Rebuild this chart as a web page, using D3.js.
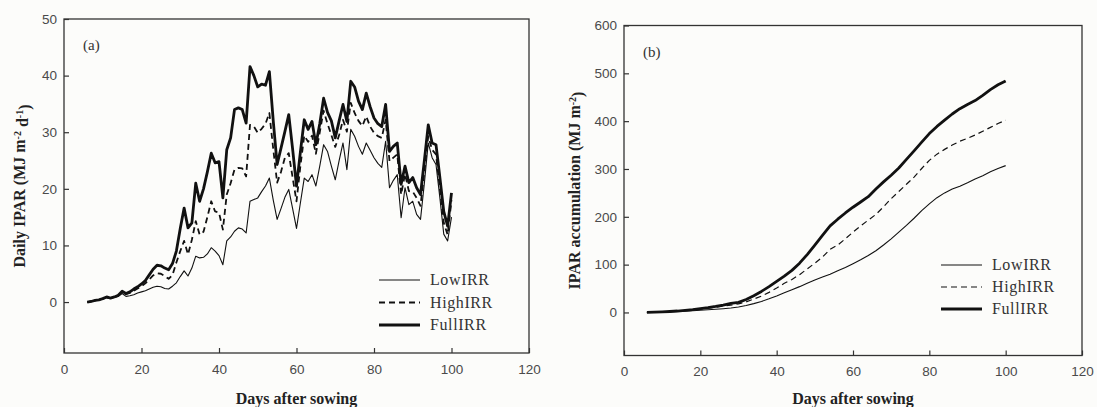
<!DOCTYPE html>
<html><head><meta charset="utf-8">
<script src="https://cdn.jsdelivr.net/npm/d3@7"></script>
<style>
html,body{margin:0;padding:0;background:#fcfcfa;}
svg{display:block;}
.tick text{font-family:"Liberation Sans",Arial,sans-serif;font-size:13.5px;fill:#4a4a4a;}
.tick line{stroke:#333;stroke-width:1.2;}
.title{font-family:"Liberation Serif","Times New Roman",serif;font-weight:bold;font-size:16px;fill:#222;}
.leg{font-family:"Liberation Serif","Times New Roman",serif;font-size:16px;fill:#333;letter-spacing:0.6px;}
.plab{font-family:"Liberation Serif","Times New Roman",serif;font-size:15px;fill:#333;}
</style></head>
<body>
<svg id="c" width="1097" height="407"></svg>
<script>
// ---------- data ----------
const xTicks = [0, 20, 40, 60, 80, 100, 120];
const yTicksA = [0, 10, 20, 30, 40, 50];
const yTicksB = [0, 100, 200, 300, 400, 500, 600];
const seriesNames = ["LowIRR", "HighIRR", "FullIRR"];

// Panel (a): daily IPAR, days 6..100
const daysA = [6,7,8,9,10,11,12,13,14,15,16,17,18,19,20,21,22,23,24,25,26,27,28,29,30,31,32,33,34,35,36,37,38,39,40,41,42,43,44,45,46,47,48,49,50,51,52,53,54,55,56,57,58,59,60,61,62,63,64,65,66,67,68,69,70,71,72,73,74,75,76,77,78,79,80,81,82,83,84,85,86,87,88,89,90,91,92,93,94,95,96,97,98,99,100];
const lowA = [0,0.1,0.2,0.4,0.5,0.8,0.7,0.8,1.0,1.5,1.0,1.1,1.3,1.6,1.8,2.0,2.3,2.6,2.8,2.7,2.4,2.3,2.8,3.4,4.5,5.5,4.6,6.0,8.1,7.8,7.9,8.5,9.6,9.0,8.2,6.6,10.8,11.5,12.5,13.1,12.9,12.2,17.8,18.1,18.4,19.5,20.5,21.9,18.0,14.6,16.5,18.5,19.9,16.5,13.0,17.5,21.9,21.3,22.5,20.5,24.0,27.8,26.6,24.0,21.6,25.0,28.1,23.4,30.5,29.3,27.5,26.1,28.1,26.8,25.5,24.5,23.8,28.4,20.2,21.5,22.5,14.9,20.2,17.2,17.8,15.5,14.6,21.0,28.1,25.5,24.3,18.4,12.0,10.8,15.0];
const highA = [0,0.1,0.3,0.4,0.6,0.8,0.7,0.9,1.1,1.7,1.4,1.6,2.0,2.4,2.8,3.3,4.0,4.7,5.1,5.0,4.6,4.1,4.8,7.0,9.0,10.8,8.4,11.0,14.3,11.9,12.4,15.0,17.8,16.0,15.8,12.8,19.0,21.0,23.4,23.7,23.6,22.2,31.3,31.0,29.9,30.6,31.5,33.4,27.0,21.1,23.0,25.5,26.3,22.0,17.8,24.0,29.4,28.3,29.4,26.2,30.0,33.8,31.5,29.5,27.4,29.5,32.2,30.1,35.2,33.4,32.0,31.1,32.8,31.0,29.9,29.3,29.0,32.2,24.9,25.5,26.1,19.0,22.6,19.6,19.5,18.4,17.0,23.0,29.3,26.9,26.1,20.0,14.0,11.9,18.0];
const fullA = [0,0.1,0.3,0.4,0.6,0.9,0.7,0.9,1.2,1.9,1.5,1.8,2.3,2.7,3.2,3.8,4.8,5.8,6.5,6.4,6.0,5.7,6.8,9.0,13.0,16.6,13.1,14.0,21.0,17.8,20.0,23.0,26.3,24.6,24.8,18.4,26.9,29.0,34.0,34.3,34.0,31.6,41.6,40.0,38.0,38.5,38.3,40.7,32.0,24.3,27.2,30.1,33.1,27.0,20.5,26.5,32.2,30.5,31.9,27.8,31.5,36.0,33.5,32.0,29.0,32.0,34.9,31.9,39.0,38.0,35.5,34.0,36.9,34.5,32.5,31.5,31.0,34.9,26.6,27.5,28.1,20.8,24.0,21.1,22.0,20.2,19.0,25.0,31.3,28.1,27.8,22.0,16.0,13.4,19.3];

// Panel (b): IPAR accumulation, every 2 days 6..100
const daysB = [6,8,10,12,14,16,18,20,22,24,26,28,30,32,34,36,38,40,42,44,46,48,50,52,54,56,58,60,62,64,66,68,70,72,74,76,78,80,82,84,86,88,90,92,94,96,98,100];
const lowB = [0,0.4,0.9,1.4,2,2.8,3.6,4.5,5.5,6.7,7.9,9.4,11.5,14.5,18.5,23,28.5,34.5,41,47.5,54,61,68,74,80,87,94,102,110,119,129,141,154,168,182,197,213,227,240,250,258,264,271,279,286,294,301,307];
const highB = [0,0.5,1.1,1.8,2.7,4,5.3,7,8.8,11,13.3,15.5,18,22,28,34,42,51,61,69,79,91,103,116,132,141,154,168,181,193,205,221,238,253,268,283,301,318,331,341,350,358,364,371,379,387,395,402];
const fullB = [0,0.5,1.2,2,3,4.5,6,8,10,12.5,15.5,19,21,27,35,44,54,65,76,88,103,121,141,161,181,195,208,220,231,242,258,273,287,302,320,338,356,374,389,402,415,426,435,443,454,466,476,484];

// ---------- drawing ----------
const svg = d3.select("#c");
svg.append("rect").attr("width",1097).attr("height",407).attr("fill","#fcfcfa");

const styles = {
  LowIRR:  {w:1.1, dash:null},
  HighIRR: {w:1.8, dash:"6,4"},
  FullIRR: {w:2.8, dash:null}
};

function panel(cfg){
  const x = d3.scaleLinear().domain([0,120]).range(cfg.xr);
  const y = d3.scaleLinear().domain(cfg.yd).range(cfg.yr);
  const g = svg.append("g");

  const ax = g.append("g").attr("transform",`translate(0,${cfg.yr[0]})`)
    .call(d3.axisBottom(x).tickValues(xTicks).tickSizeInner(-5).tickSizeOuter(0).tickPadding(11));
  ax.select(".domain").remove();
  const ay = g.append("g").attr("transform",`translate(${cfg.xr[0]},0)`)
    .call(d3.axisLeft(y).tickValues(cfg.yt).tickSizeInner(-5).tickSizeOuter(0).tickPadding(7));
  ay.select(".domain").remove();

  g.append("rect").attr("x",cfg.xr[0]).attr("y",cfg.yr[1])
    .attr("width",cfg.xr[1]-cfg.xr[0]).attr("height",cfg.yr[0]-cfg.yr[1])
    .attr("fill","none").attr("stroke","#333").attr("stroke-width",1.3);

  const line = d3.line().x(d=>x(d[0])).y(d=>y(d[1]));
  cfg.series.forEach(s=>{
    const st = styles[s.name];
    g.append("path").datum(cfg.days.map((d,i)=>[d,s.values[i]]))
      .attr("d",line).attr("fill","none").attr("stroke","#111")
      .attr("stroke-width", s.name==="HighIRR" ? cfg.hw : st.w)
      .attr("stroke-linejoin","round")
      .attr("stroke-dasharray", st.dash);
  });

  seriesNames.forEach((n,i)=>{
    const st = styles[n];
    const yy = cfg.leg.y + i*cfg.leg.dy;
    g.append("line").attr("x1",cfg.leg.x1).attr("x2",cfg.leg.x2).attr("y1",yy).attr("y2",yy)
      .attr("stroke","#111").attr("stroke-width", n==="HighIRR" ? cfg.hw : st.w)
      .attr("stroke-dasharray", st.dash);
    g.append("text").attr("class","leg").attr("x",cfg.leg.tx).attr("y",yy).attr("dy","0.34em").text(n);
  });

  g.append("text").attr("class","plab").attr("x",cfg.pl[0]).attr("y",cfg.pl[1]).text(cfg.plText);

  g.append("text").attr("class","title").attr("text-anchor","middle")
    .attr("x",(cfg.xr[0]+cfg.xr[1])/2).attr("y",404).text("Days after sowing");

  const yt = g.append("text").attr("class","title").attr("text-anchor","middle")
    .attr("transform",`translate(${cfg.ytx},${(cfg.yr[0]+cfg.yr[1])/2}) rotate(-90)`);
  cfg.ytitle(yt);
}

panel({
  xr:[64,529], yd:[-9,50], yr:[353,19], yt:yTicksA, days:daysA, hw:1.8,
  series:[{name:"LowIRR",values:lowA},{name:"HighIRR",values:highA},{name:"FullIRR",values:fullA}],
  leg:{x1:379,x2:420,tx:430,y:280,dy:22.5},
  pl:[83,50], plText:"(a)", ytx:25,
  ytitle: t=>{
    t.append("tspan").text("Daily IPAR (MJ m");
    t.append("tspan").attr("dy","-0.45em").attr("font-size","10px").text("-2");
    t.append("tspan").attr("dy","0.45em").text(" d");
    t.append("tspan").attr("dy","-0.45em").attr("font-size","10px").text("-1");
    t.append("tspan").attr("dy","0.45em").text(")");
  }
});

panel({
  xr:[624,1082], yd:[-90,600], yr:[355.5,25.5], yt:yTicksB, days:daysB, hw:1.2,
  series:[{name:"LowIRR",values:lowB},{name:"HighIRR",values:highB},{name:"FullIRR",values:fullB}],
  leg:{x1:941,x2:982,tx:992,y:265,dy:22},
  pl:[643,57], plText:"(b)", ytx:580,
  ytitle: t=>{
    t.append("tspan").text("IPAR accumulation (MJ m");
    t.append("tspan").attr("dy","-0.45em").attr("font-size","10px").text("-2");
    t.append("tspan").attr("dy","0.45em").text(")");
  }
});
</script>
</body></html>
